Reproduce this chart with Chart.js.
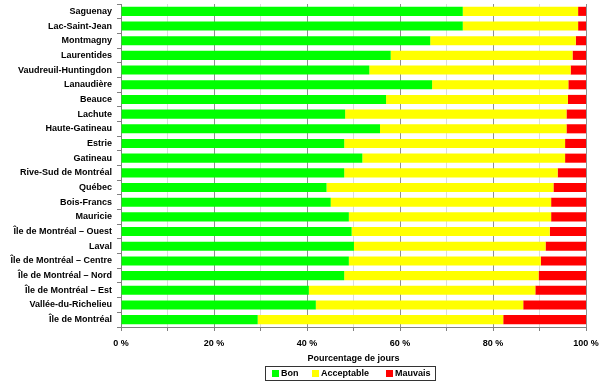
<!DOCTYPE html>
<html>
<head>
<meta charset="utf-8">
<script src="https://cdn.jsdelivr.net/npm/chart.js@4/dist/chart.umd.min.js"></script>
<style>
	body { margin: 0; background: #fff; }
	#wrap { position: relative; width: 600px; height: 389px; }
	#legend {
		position: absolute; left: 265px; top: 366px; width: 171px; height: 15px;
		border: 1px solid #333; box-sizing: border-box;
		font: bold 9px "Liberation Sans", Arial, sans-serif; color: #000;
		white-space: nowrap; line-height: 13px;
	}
	#legend span.sq { display: inline-block; width: 7px; height: 7px; margin-right: 2px; vertical-align: -0.5px; }
	#legend span.it { position: absolute; top: 0; }
</style>
</head>
<body>
<div id="wrap">
	<canvas id="chart" width="600" height="389"></canvas>
	<div id="legend"></div>
</div>
<script>
var categories = [
	'Saguenay', 'Lac-Saint-Jean', 'Montmagny', 'Laurentides', 'Vaudreuil-Huntingdon',
	'Lanaudière', 'Beauce', 'Lachute', 'Haute-Gatineau', 'Estrie', 'Gatineau',
	'Rive-Sud de Montréal', 'Québec', 'Bois-Francs', 'Mauricie', 'Île de Montréal – Ouest',
	'Laval', 'Île de Montréal – Centre', 'Île de Montréal – Nord', 'Île de Montréal – Est',
	'Vallée-du-Richelieu', 'Île de Montréal'
];

var bon        = [73.5, 73.5, 66.5, 58.0, 53.4, 66.9, 57.0, 48.2, 55.7, 48.0, 51.9, 48.0, 44.2, 45.1, 49.0, 49.6, 50.1, 49.0, 48.0, 40.4, 41.9, 29.4];
var acceptable = [24.8, 24.8, 31.3, 39.1, 43.3, 29.3, 39.1, 47.6, 40.1, 47.5, 43.6, 45.9, 48.8, 47.4, 43.5, 42.6, 41.2, 41.3, 41.8, 48.7, 44.6, 52.8];
var mauvais    = [1.7, 1.7, 2.2, 2.9, 3.3, 3.8, 3.9, 4.2, 4.2, 4.5, 4.5, 6.1, 7.0, 7.5, 7.5, 7.8, 8.7, 9.7, 10.2, 10.9, 13.5, 17.8];

var xTicks = [0, 20, 40, 60, 80, 100];
var seriesNames = ['Bon', 'Acceptable', 'Mauvais'];
var seriesColors = ['#00ff00', '#ffff00', '#ff0000'];

var font = '"Liberation Sans", Arial, sans-serif';

function buildLegend() {
	var el = document.getElementById('legend');
	var lefts = [6, 46, 120];
	seriesNames.forEach(function(name, i) {
		var it = document.createElement('span');
		it.className = 'it';
		it.style.left = lefts[i] + 'px';
		it.innerHTML = '<span class="sq" style="background:' + seriesColors[i] + '"></span>' + name;
		el.appendChild(it);
	});
}

function render() {
	var values = [bon, acceptable, mauvais];
	var datasets = seriesNames.map(function(name, i) {
		return {
			label: name,
			data: values[i],
			backgroundColor: seriesColors[i],
			borderWidth: 0,
			barPercentage: 0.62,
			categoryPercentage: 1
		};
	});

	var ctx = document.getElementById('chart').getContext('2d');
	new Chart(ctx, {
		type: 'bar',
		data: { labels: categories, datasets: datasets },
		options: {
			indexAxis: 'y',
			responsive: false,
			animation: false,
			layout: { padding: { top: 4, right: 14, bottom: 24, left: 0 } },
			plugins: {
				legend: { display: false },
				tooltip: { enabled: false }
			},
			scales: {
				y: {
					stacked: true,
					afterFit: function(scale) {
						scale.width = 121;
						scale.paddingTop = 0;
						scale.paddingBottom = 0;
					},
					border: { color: '#808080' },
					grid: { offset: true, drawOnChartArea: false, tickLength: 4, color: '#808080' },
					ticks: { color: '#000', padding: 5, autoSkip: false, font: { family: font, size: 9, weight: 'bold' } }
				},
				x: {
					stacked: true,
					min: 0,
					max: 100,
					afterFit: function(scale) {
						scale.height = 38;
						scale.paddingLeft = 0;
						scale.paddingRight = 0;
					},
					border: { color: '#808080' },
					grid: {
						tickLength: 4,
						tickColor: '#808080',
						color: function(c) { return xTicks.indexOf(c.tick.value) >= 0 ? '#909090' : '#dcdcdc'; }
					},
					ticks: {
						stepSize: 10,
						autoSkip: false,
						maxRotation: 0,
						padding: 7,
						color: '#000',
						font: { family: font, size: 9, weight: 'bold' },
						callback: function(v) { return xTicks.indexOf(v) >= 0 ? v + ' %' : ''; }
					},
					title: {
						display: true,
						text: 'Pourcentage de jours',
						color: '#000',
						padding: { top: 0, bottom: 1 },
						font: { family: font, size: 9, weight: 'bold' }
					}
				}
			}
		}
	});
}

buildLegend();
render();
</script>
</body>
</html>
